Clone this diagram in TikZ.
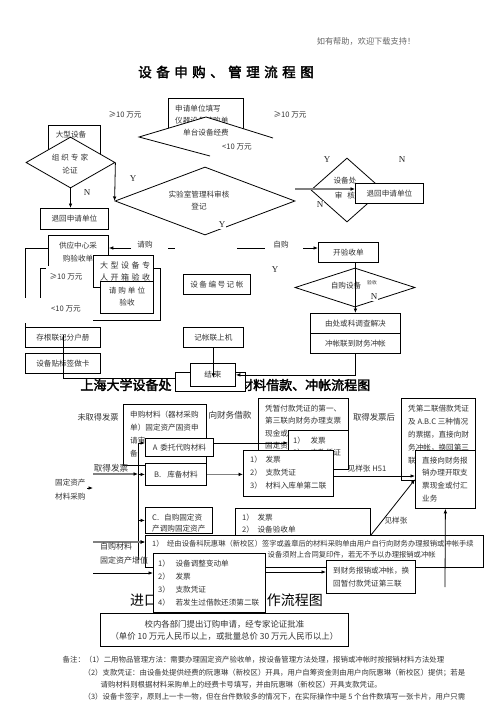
\documentclass[tikz,border=0pt]{standalone}
\usepackage{fontspec}
\setmainfont{Noto Sans CJK SC}
\newfontfamily\cjk{Noto Sans CJK SC}
\newfontfamily\cjkb[FakeBold=2.5]{Noto Sans CJK SC}
\newfontfamily\ser{Liberation Serif}
\usetikzlibrary{arrows.meta,calc,shapes.geometric}
\definecolor{txtc}{gray}{0.2}
\definecolor{garc}{gray}{0.5}
\newcommand\fsz[2]{\fontsize{#1}{#2}\selectfont}
\newcommand\tsp{\hspace{4.5pt}}
\newcommand\mkbox[7][]{\node[box,minimum width={(#5-#3)*1pt},minimum height={(#6-#4)*1pt},#1] (#2) at (#3,#4) {#7};}
\newcommand\mytl[5][]{\node[tlx,#1] (#2) at (#3,{#4-3.4}) {#5};}
\newcommand\mytc[5][]{\node[tcx,#1] (#2) at (#3,{#4-3.4}) {#5};}
\tikzset{
  box/.style={draw=black, fill=white, line width=0.8pt, anchor=north west, inner sep=1pt, font=\cjk\fsz{7.6}{12.6}, text=txtc, align=center},
  dia/.style={diamond, draw=black, fill=white, line width=0.8pt, inner sep=0pt},
  tlx/.style={anchor=north west, align=left, inner sep=0pt, font=\cjk\fsz{7.6}{12.6}, text=txtc},
  tcx/.style={anchor=north, align=center, inner sep=0pt, font=\cjk\fsz{7.6}{12.6}, text=txtc},
  lab/.style={inner sep=0.5pt, font=\cjk\fsz{7.6}{9}, text=txtc},
  yn/.style={inner sep=1pt, font=\ser\fsz{9}{10}, text=black!85},
  arr/.style={-{Latex[length=4.5pt,width=3.6pt]}, line width=0.8pt},
  garr/.style={-{Latex[length=4.5pt,width=3.8pt,color=black]}, line width=1.5pt, draw=garc},
  ln/.style={line width=0.8pt},
}
\begin{document}
\begin{tikzpicture}[x=1pt,y=-1pt]
\useasboundingbox (0,0) rectangle (496,702);
\fill[white] (0,0) rectangle (496,702);

% ---------- header ----------
\node[lab, font=\cjk\fsz{8.2}{9}, text=black!60] (hdr) at (366,41) {如有帮助，欢迎下载支持！};
\node[inner sep=0pt, font=\cjkb\fsz{13.5}{14}, text=black] (ttl) at (226,72) {设\tsp 备\tsp 申\tsp 购\tsp 、\tsp 管\tsp 理\tsp 流\tsp 程\tsp 图};

% ---------- top flow ----------
\node[lab] (ge1) at (125,115) {≥10 万元};
\node[lab] (ge2) at (290,115) {≥10 万元};

\mkbox{sq}{168}{98}{243}{128}{}
\mytl[font=\cjk\fsz{7.6}{12}]{sqt}{175}{108}{申请单位填写\\仪器设备请购单}
\filldraw[fill=white, line width=0.8pt] (210,156) -- (139,137) -- (206,117) -- (273,138);
\node[lab] (djt) at (206,133) {单台设备经费};
\node[lab] (lt1) at (237,147) {<10 万元};

\mkbox{dx}{48}{125}{100}{160}{}
\node[lab] (dxt) at (71,135) {大型设备};
\node[dia, minimum width=89pt, minimum height=51pt] (zz) at (70.5,162.5) {};
\node[lab] (zzt1) at (70,158) {组\hspace{2pt}织\hspace{2pt}专\hspace{2pt}家};
\node[lab] (zzt2) at (70,171) {论证};

\mkbox{th1}{40}{208}{108}{229}{退回申请单位}
\draw[arr] (zz.south) -- (zz.south |- th1.north);

\node[dia, minimum width=180pt, minimum height=68pt] (sy) at (205,201) {};
\node[lab] (syt1) at (199,195) {实验室管理科审核};
\node[lab] (syt2) at (199,207) {登记};
\draw[arr] (zz.east) -- (sy.west);

\node[dia, minimum width=72pt, minimum height=64pt] (sb) at (347,190) {};
\node[lab] (sbt1) at (345,181) {设备处};
\node[lab] (sbt2) at (345,196) {审\hspace{5pt}核};
\mkbox{th2}{355}{183}{423}{203}{退回申请单位}
\coordinate (g1) at (295,189);
\draw[garr] (g1) -- (g1 -| th2.west);

\node[yn] (y1) at (133,179) {Y};
\node[yn] (n1) at (87,193) {N};
\node[yn] (y2) at (327,160) {Y};
\node[yn] (n2) at (402,160) {N};
\node[yn, fill=white] (n3) at (320,205) {N};
\node[yn, fill=white] (y3) at (222,225) {Y};
\node[yn] (y4) at (275,270) {Y};

% purchase line
\mkbox{gy}{48}{235}{108}{280}{}
\mytc[font=\cjk\fsz{7.6}{13}]{gyt}{78}{245}{供应中心采\\购验收单}
\mkbox{kys}{318}{242}{378}{262}{开验收单}
\coordinate (q1) at (131,248);
\coordinate (q2) at (168,248);
\coordinate (q3) at (175,248);
\coordinate (q4) at (237,248);
\coordinate (q5) at (265,248);
\coordinate (q6) at (303,248);
\draw[arr] (q1) -- (q1 -| gy.east);
\draw[ln] (q2) -- (q3);
\draw[ln] (q4) -- (q5);
\draw[arr] (q6) -- (q6 -| kys.west);
\node[lab] (qgl) at (145,245) {请购};
\node[lab] (zgl) at (281,245) {自购};

\mkbox{cgl}{25}{327}{100}{347}{存根联记分户册}
\mkbox{tbq}{25}{353}{100}{373}{设备贴标签做卡}
\draw[ln] (gy.west |- q1) -| (cgl.north west);

\mkbox{dk}{40}{268}{160}{320}{}
\fill[white] (46,266) rectangle (93,289);
\node[lab] (ge3) at (66,277) {≥10 万元};
\mkbox{dz}{93}{255}{153}{287}{}
\mytl[font=\cjk\fsz{8}{12}]{dzt}{100}{265}{大\hspace{2.5pt}型\hspace{2.5pt}设\hspace{2.5pt}备\hspace{2.5pt}专\\人\hspace{2.5pt}开\hspace{2.5pt}箱\hspace{2.5pt}验\hspace{2.5pt}收}
\mkbox{qgb}{100}{281}{153}{313}{}
\node[lab] (qgt1) at (127,291) {请\hspace{2pt}购\hspace{2pt}单\hspace{2pt}位};
\node[lab] (qgt2) at (127,303) {验收};
\fill[white] (22,298) rectangle (93,323);
\node[lab] (lt2) at (66,309) {<10 万元};

\mkbox{bh}{183}{274}{250}{294}{设\hspace{1.5pt}备\hspace{1.5pt}编\hspace{1.5pt}号\hspace{1.5pt}记\hspace{1.5pt}帐}
\mkbox{jzl}{183}{327}{243}{347}{记帐联上机}

\node[dia, minimum width=120pt, minimum height=39pt] (zgd) at (355,287.5) {};
\node[lab] (zgdt) at (346,286) {自购设备};
\node[lab, font=\cjk\fsz{4.8}{5}] (zgdt2) at (372,283) {验收};
\node[yn, fill=white] (n4) at (374,297) {N};
\mkbox{dc}{310}{313}{400}{333}{由处或科调查解决}
\mkbox{cz}{310}{333}{400}{353}{冲帐联到财务冲帐}
\draw[arr] (kys.south -| dc.north) -- (dc.north);

\coordinate (v0) at (63,335);
\coordinate (v1) at (63,378);

% ---------- second title ----------
\node[inner sep=0pt, font=\cjkb\fsz{13}{14}, text=black] (t2a) at (126,385) {上海大学设备处};
\node[inner sep=0pt, font=\cjkb\fsz{13}{14}, text=black, anchor=west] (t2b) at (240,385) {材料借款、冲帐流程图};
\mkbox{cv}{175}{372}{245}{391}{}
\draw[ln] (v0) -- (v1) -- (v1 -| cv.west);
\mkbox{js}{190}{363}{235}{386}{结\hspace{2pt}束}
\draw[arr] (jzl.south) -- ($(jzl.south |- js.center)+(0,3)$);
\draw[arr] (cz.south) |- (js.east);

% ---------- material section ----------
\node[lab, font=\cjk\fsz{8.2}{9}] (wq) at (98,417) {未取得发票};
\node[lab, font=\cjk\fsz{8.6}{9}] (jkl) at (230,415) {向财务借款};
\node[lab, font=\cjk\fsz{8.4}{9}] (qh) at (374,417) {取得发票后};

\mkbox{sgb}{123}{404}{206}{465}{}
\mytl[font=\cjk\fsz{7.6}{13}]{sgt}{130}{414}{申购材料（器材采购\\单）固定资产固资申\\请审\\备}
\mkbox{zf1}{258}{398}{348}{465}{}
\mytl[font=\cjk\fsz{7.6}{12.5}]{zf1t}{265}{408}{凭暂付款凭证的第一、\\第三联向财务办理支票\\现金或\\固定资}
\mkbox{fp0}{288}{430}{348}{469}{}
\mytl[font=\cjk\fsz{7.6}{12.5}]{fp0t}{293}{440}{1）\hspace{5.6pt}发票\\2）\hspace{5.6pt}支款凭证}
\mkbox{dl}{401}{398}{475}{480}{}
\mytl[font=\cjk\fsz{7.6}{13}]{dlt}{408}{408}{凭第二联借款凭证\\及 A.B.C 三种情况\\的票据，直接向财\\务冲帐，换回第三\\联}

\mkbox{ba}{145}{438}{213}{456}{A\hspace{3pt}委托代购材料}
\mkbox{bb}{145}{463}{206}{485}{B.\hspace{6pt}库备材料}
\mkbox{cl}{243}{450}{333}{496}{}
\mytl[font=\cjk\fsz{7.6}{13}]{clt}{250}{459}{1）\hspace{3.6pt}发票\\2）\hspace{3.6pt}支款凭证\\3）\hspace{3.6pt}材料入库单第二联}
\mkbox{zj}{415}{450}{475}{508}{}
\mytl[font=\cjk\fsz{7.6}{12.7}]{zjt}{422}{460}{直接向财务报\\销办理开取支\\票现金或付汇\\业务}

\coordinate (ya) at (213,443);
\draw[arr] (ya) -- (ya -| fp0.west);
\draw[garr] (bb.east) -- (bb.east -| cl.west);
\coordinate (yc) at (333,476);
\draw[arr] (yc) -- (yc -| zj.west);
\node[lab] (h51) at (367,469) {见样张 H51};

\node[lab, font=\cjk\fsz{8.6}{9}] (qdfp) at (111,468) {取得发票};
\mytl[font=\cjk\fsz{7.6}{14}]{gdzc}{55}{482}{固定资产\\材料采购}
\coordinate (sa1) at (87,488);
\coordinate (sa2) at (93,488);
\draw[arr] (sa1) -- (sa2);

\mkbox{cc}{145}{507}{212}{533}{}
\mytl[font=\cjk\fsz{7.6}{11.5}]{cct}{152}{517}{C.\hspace{5pt}自购固定资\\产调购固定资产}
\mkbox{fy}{235}{508}{370}{541}{}
\mytl[font=\cjk\fsz{7.6}{12}]{fyt}{242}{517}{1）\hspace{3.6pt}发票\\2）\hspace{3.6pt}设备验收单}
\mkbox{jy}{145}{535}{483}{567}{}
\mytl[font=\cjk\fsz{7.3}{12}]{jyt1}{152}{543}{1）\hspace{3.6pt}经由设备科阮惠琳（新校区）签字或盖章后的材料采购单由用户自行向财务办理报销或冲帐手续}
\node[lab, font=\cjk\fsz{7.3}{9}, anchor=west] (jyt2) at (267,555) {设备须附上合同复印件，若无不予以办理报销或冲帐};

\coordinate (bt) at (138,443);
\coordinate (bbm) at (138,560);
\draw[ln] (bt) -- (bbm);
\draw[arr] (bt) -- (bt -| ba.west);
\draw[arr] (bb.west -| bt) -- (bb.west);
\draw[arr] (cc.west -| bt) -- (cc.west);
\coordinate (b4) at (138,542);
\draw[arr] (b4) -- (b4 -| jy.west);
\coordinate (g2) at (93,474);
\draw[garr] (g2) -- (g2 -| bt);
\coordinate (g3) at (93,542);
\draw[garr] (g3) -- (g3 -| jy.west);
\mytl[font=\cjk\fsz{8}{14}]{zgcl}{100}{546}{自购材料\\固定资产增值}

\node[inner sep=0pt, font=\cjk\fsz{14}{15}, text=black, anchor=west] (jk1) at (130,600) {进口};
\node[inner sep=0pt, font=\cjk\fsz{14}{15}, text=black, anchor=east] (jk2) at (323,600) {作流程图};

\mkbox{sd}{153}{553}{265}{612}{}
\mytl[font=\cjk\fsz{7.6}{13}]{sdt}{158}{563}{1）\hspace{5.6pt}设备调整变动单\\2）\hspace{5.6pt}发票\\3）\hspace{5.6pt}支款凭证\\4）\hspace{5.6pt}若发生过借款还须第二联}
\coordinate (g4) at (93,573);
\draw[arr] (g4) -- (g4 -| sd.west);

\mkbox{dc2}{326}{560}{415}{593}{}
\mytl[font=\cjk\fsz{7.6}{13}]{dc2t}{333}{570}{到财务报销或冲帐，换\\回暂付款凭证第三联}
\coordinate (g5) at (265,572);
\draw[arr] (g5) -- (g5 -| dc2.west);

\coordinate (vu) at (445,587);
\draw[arr] (vu) -- (zj.south);
\coordinate (dg) at (371,535);
\draw[arr] (dg) -- (zj.west);
\node[lab] (jyz) at (396,521) {见样张};

% ---------- bottom ----------
\mkbox[font=\cjk\fsz{8.4}{12}]{fin}{100}{613}{348}{646}{校内各部门提出订购申请，经专家论证批准\\（单价 10 万元人民币以上，或批量总价 30 万元人民币以上）}

\node[lab, font=\cjk\fsz{7.4}{9}, anchor=west] (nt1) at (62,660) {备注：（1）二用物品管理方法：需要办理固定资产验收单，按设备管理方法处理，报销或冲帐时按报销材料方法处理};
\node[lab, font=\cjk\fsz{7.4}{9}, anchor=west] (nt2) at (83,672.5) {（2）支款凭证：由设备处提供经费的阮惠琳（新校区）开具，用户自筹资金则由用户向阮惠琳（新校区）提供；若是};
\node[lab, font=\cjk\fsz{7.4}{9}, anchor=west] (nt3) at (100,685) {请购材料则根据材料采购单上的经费卡号填写，并由阮惠琳（新校区）开具支款凭证。};
\node[lab, font=\cjk\fsz{7.4}{9}, anchor=west] (nt4) at (83,696.5) {（3）设备卡签字，原则上一卡一物，但在台件数较多的情况下，在实际操作中是 5 个台件数填写一张卡片，用户只需};
\end{tikzpicture}
\end{document}
